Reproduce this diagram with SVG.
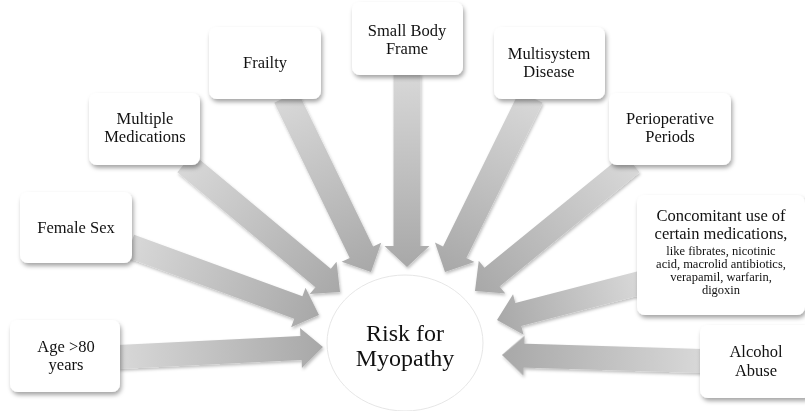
<svg xmlns="http://www.w3.org/2000/svg" width="805" height="411" viewBox="0 0 805 411">
<defs>
<linearGradient id="ag" x1="0" y1="0" x2="1" y2="0">
<stop offset="0" stop-color="#d8d8d8"/>
<stop offset="1" stop-color="#a8a8a8"/>
</linearGradient>
<filter id="sh" x="-20%" y="-20%" width="140%" height="150%">
<feDropShadow dx="1.5" dy="3" stdDeviation="2" flood-color="#000" flood-opacity="0.35"/>
</filter>
<filter id="ash" x="-10%" y="-10%" width="120%" height="120%">
<feDropShadow dx="1" dy="2" stdDeviation="1.5" flood-color="#000" flood-opacity="0.25"/>
</filter>
</defs>
<style>
.box{fill:#fff;filter:url(#sh)}
.arr{fill:url(#ag)}
text{font-family:"Liberation Serif","Times New Roman",serif;fill:#111;text-anchor:middle}
.t{font-size:16.5px}
.s{font-size:12.5px}
.c{font-size:24px}
</style>
<rect width="805" height="411" fill="#fff"/>
<g id="connectors" filter="url(#ash)">
<path class="arr" transform="translate(118,357) rotate(-2.79)" d="M0,-12 H183.2 V-20 L205.2,0 L183.2,20 V12 H0 Z"/>
<path class="arr" transform="translate(130,246) rotate(20.06)" d="M0,-12 H179.2 V-21 L201.2,0 L179.2,21 V12 H0 Z"/>
<path class="arr" transform="translate(185,163) rotate(39.77)" d="M0,-12 H179.7 V-21 L201.7,0 L179.7,21 V12 H0 Z"/>
<path class="arr" transform="translate(286,97) rotate(64.09)" d="M0,-13 H172.6 V-22 L194.6,0 L172.6,22 V13 H0 Z"/>
<path class="arr" transform="translate(407,73) rotate(90)" d="M0,-13.5 H173 V-22.5 L194,0 L173,22.5 V13.5 H0 Z"/>
<path class="arr" transform="translate(531,97) rotate(116.17)" d="M0,-13 H173 V-22 L195,0 L173,22 V13 H0 Z"/>
<path class="arr" transform="translate(632,163) rotate(140.81)" d="M0,-12 H180.6 V-21 L202.6,0 L180.6,21 V12 H0 Z"/>
<path class="arr" transform="translate(640,283) rotate(165.49)" d="M0,-12 H125.7 V-21 L147.7,0 L125.7,21 V12 H0 Z"/>
<path class="arr" transform="translate(702,361) rotate(181.72)" d="M0,-12 H178.1 V-20 L200.1,0 L178.1,20 V12 H0 Z"/>
</g>
<g id="center">
<ellipse cx="405" cy="343" rx="78" ry="68" fill="#fff" stroke="#e6e6e6" stroke-width="1"/>
<text class="c" x="405" y="341">Risk for</text>
<text class="c" x="405" y="366">Myopathy</text>
</g>
<g id="age">
<rect class="box" x="10" y="320" width="110" height="72" rx="8"/>
<text class="t" x="66" y="352">Age &gt;80</text>
<text class="t" x="66" y="370">years</text>
</g>
<g id="female">
<rect class="box" x="20" y="192" width="112" height="71" rx="8"/>
<text class="t" x="76" y="233">Female Sex</text>
</g>
<g id="multmed">
<rect class="box" x="89" y="93" width="111" height="72" rx="8"/>
<text class="t" x="145" y="124">Multiple</text>
<text class="t" x="145" y="142">Medications</text>
</g>
<g id="frailty">
<rect class="box" x="209" y="27" width="112" height="72" rx="8"/>
<text class="t" x="265" y="68">Frailty</text>
</g>
<g id="smallbody">
<rect class="box" x="352" y="2" width="111" height="73" rx="8"/>
<text class="t" x="407" y="36">Small Body</text>
<text class="t" x="407" y="54">Frame</text>
</g>
<g id="multisystem">
<rect class="box" x="494" y="27" width="111" height="72" rx="8"/>
<text class="t" x="549" y="59">Multisystem</text>
<text class="t" x="549" y="77">Disease</text>
</g>
<g id="periop">
<rect class="box" x="609" y="93" width="122" height="72" rx="8"/>
<text class="t" x="670" y="124">Perioperative</text>
<text class="t" x="670" y="142">Periods</text>
</g>
<g id="concomitant">
<rect class="box" x="637" y="195" width="168" height="120" rx="8"/>
<text class="t" x="721" y="221">Concomitant use of</text>
<text class="t" x="721" y="239">certain medications,</text>
<text class="s" x="721" y="255">like fibrates, nicotinic</text>
<text class="s" x="721" y="268">acid, macrolid antibiotics,</text>
<text class="s" x="721" y="281">verapamil, warfarin,</text>
<text class="s" x="721" y="294">digoxin</text>
</g>
<g id="alcohol">
<rect class="box" x="700" y="325" width="112" height="73" rx="8"/>
<text class="t" x="756" y="357">Alcohol</text>
<text class="t" x="756" y="376">Abuse</text>
</g>
</svg>
